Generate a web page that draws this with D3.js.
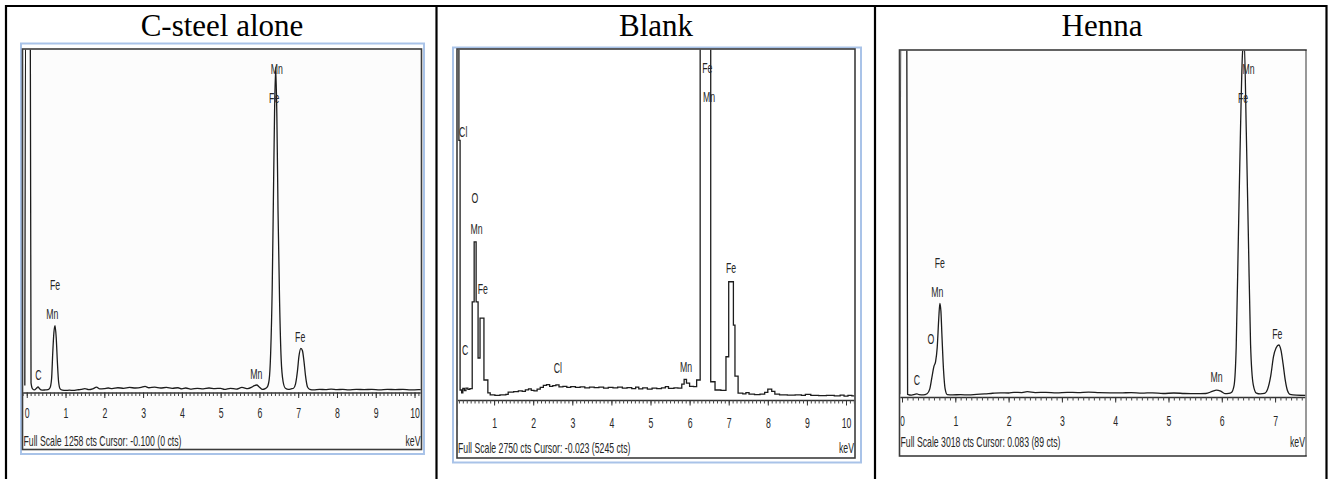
<!DOCTYPE html>
<html>
<head>
<meta charset="utf-8">
<script src="https://cdn.jsdelivr.net/npm/d3@7/dist/d3.min.js"></script>
<style>
  body { margin: 0; background: #fff; }
  svg { display: block; }
</style>
</head>
<body>
<svg id="chart" width="1331" height="479"></svg>
<script>
// panel titles and the spectrometer footers
const panelTitles = ['C-steel alone', 'Blank', 'Henna'];
const fullScales = [1258, 2750, 3018];
const footerTexts = [
  'Full Scale 1258 cts Cursor: -0.100  (0 cts)',
  'Full Scale 2750 cts Cursor: -0.023  (5245 cts)',
  'Full Scale 3018 cts Cursor: 0.083  (89 cts)'
];
const keVTicksSteel = [0, 1, 2, 3, 4, 5, 6, 7, 8, 9, 10];
const keVTicksBlank = [0, 1, 2, 3, 4, 5, 6, 7, 8, 9, 10];
const keVTicksHenna = [0, 1, 2, 3, 4, 5, 6, 7];

// [keV, counts]
const steelSpectrum = [
  [-0.05, 20], [-0.03, 1400], [0.09, 1400], [0.11, 30], [0.15, 8], [0.2, 4], [0.25, 10],
  [0.29, 15], [0.33, 8], [0.4, 3], [0.48, 4], [0.55, 5], [0.6, 12], [0.64, 45], [0.67, 140],
  [0.7, 215], [0.73, 240], [0.76, 195], [0.79, 105], [0.82, 35], [0.86, 8], [0.92, 3],
  [1.0, 2], [1.1, 3], [1.2, 2], [1.3, 4], [1.4, 6], [1.5, 9], [1.6, 5], [1.7, 8], [1.8, 14],
  [1.88, 8], [2.0, 9], [2.1, 11], [2.2, 9], [2.35, 12], [2.5, 10], [2.65, 13], [2.8, 11],
  [2.95, 13], [3.05, 17], [3.15, 12], [3.3, 14], [3.45, 11], [3.6, 13], [3.75, 10], [3.9, 12],
  [4.0, 8], [4.1, 11], [4.25, 7], [4.4, 10], [4.55, 8], [4.7, 11], [4.85, 9], [5.0, 10],
  [5.1, 6], [5.25, 10], [5.4, 7], [5.55, 13], [5.7, 9], [5.8, 14], [5.87, 20], [5.93, 22],
  [6.0, 14], [6.08, 6], [6.15, 9], [6.2, 14], [6.25, 40], [6.29, 140], [6.33, 380], [6.36, 700],
  [6.39, 1020], [6.42, 1192], [6.45, 1010], [6.48, 660], [6.52, 330], [6.56, 120], [6.61, 35],
  [6.67, 10], [6.75, 6], [6.82, 8], [6.88, 10], [6.93, 25], [6.98, 72], [7.02, 128], [7.07, 157],
  [7.11, 148], [7.15, 108], [7.19, 55], [7.24, 15], [7.3, 6], [7.4, 4], [7.55, 6], [7.7, 5],
  [7.85, 7], [8.0, 5], [8.15, 6], [8.3, 4], [8.5, 6], [8.7, 5], [8.9, 6], [9.1, 4], [9.3, 6],
  [9.5, 5], [9.7, 6], [9.9, 4], [10.1, 5], [10.25, 5]
];

// the Blank spectrum is drawn as steps: each pair starts a channel
const blankSpectrum = [
  [0.06, 3000], [0.1, 2030], [0.13, 63], [0.17, 40], [0.2, 75], [0.24, 58], [0.28, 78],
  [0.33, 68], [0.38, 74], [0.44, 758], [0.49, 1231], [0.54, 758], [0.59, 315], [0.64, 630],
  [0.74, 142], [0.84, 40], [0.9, 24], [1.02, 20], [1.15, 24], [1.3, 28], [1.36, 46], [1.5, 50],
  [1.62, 56], [1.72, 52], [1.8, 64], [1.88, 72], [1.95, 60], [2.02, 56], [2.1, 70], [2.18, 84],
  [2.26, 100], [2.34, 106], [2.42, 92], [2.5, 98], [2.58, 104], [2.66, 88], [2.76, 92],
  [2.86, 84], [2.96, 90], [3.08, 84], [3.2, 88], [3.32, 80], [3.44, 86], [3.56, 82], [3.68, 86],
  [3.8, 78], [3.92, 84], [4.04, 80], [4.16, 86], [4.28, 78], [4.4, 82], [4.52, 74], [4.62, 86],
  [4.7, 72], [4.8, 80], [4.92, 70], [5.04, 78], [5.16, 74], [5.28, 80], [5.38, 90], [5.46, 76],
  [5.6, 80], [5.7, 78], [5.8, 110], [5.86, 147], [5.92, 118], [6.0, 92], [6.1, 89], [6.18, 142],
  [6.27, 3000], [6.54, 128], [6.65, 63], [6.8, 60], [6.93, 325], [7.0, 916], [7.12, 575],
  [7.16, 173], [7.24, 39], [7.36, 32], [7.44, 42], [7.52, 30], [7.66, 26], [7.8, 30], [7.92, 44],
  [8.0, 70], [8.1, 52], [8.18, 30], [8.3, 24], [8.5, 22], [8.7, 24], [8.86, 20], [8.96, 28],
  [9.1, 20], [9.3, 18], [9.5, 20], [9.7, 16], [9.85, 22], [9.95, 14], [10.05, 20], [10.15, 16],
  [10.3, 16]
];

const hennaSpectrum = [
  [-0.04, 15], [-0.025, 3100], [0.09, 3100], [0.105, 15], [0.18, 8], [0.24, 14], [0.28, 18],
  [0.32, 12], [0.4, 10], [0.47, 20], [0.52, 60], [0.56, 160], [0.6, 260], [0.63, 300],
  [0.66, 420], [0.69, 680], [0.71, 808], [0.73, 740], [0.75, 520], [0.78, 220], [0.81, 60],
  [0.85, 12], [0.95, 10], [1.1, 12], [1.25, 9], [1.4, 14], [1.55, 18], [1.7, 24], [1.85, 28],
  [2.0, 26], [2.1, 32], [2.25, 30], [2.35, 38], [2.5, 30], [2.7, 32], [2.9, 28], [3.1, 32],
  [3.3, 30], [3.5, 34], [3.7, 30], [3.9, 28], [4.1, 27], [4.3, 30], [4.5, 25], [4.7, 28],
  [4.9, 22], [5.1, 26], [5.3, 22], [5.5, 20], [5.7, 22], [5.82, 40], [5.9, 52], [5.98, 42],
  [6.06, 20], [6.13, 22], [6.18, 30], [6.23, 90], [6.27, 420], [6.31, 1361], [6.35, 2300],
  [6.39, 3000], [6.42, 3100], [6.46, 2300], [6.5, 1361], [6.54, 450], [6.59, 100], [6.65, 25],
  [6.72, 18], [6.8, 22], [6.86, 60], [6.92, 180], [6.97, 343], [7.02, 420], [7.07, 445],
  [7.11, 400], [7.15, 280], [7.19, 140], [7.23, 50], [7.28, 15], [7.4, 8], [7.6, 6]
];

// peak labels: [element, keV, counts] at the label centre
const steelPeaks = [
  ['Mn', 6.45, 1187], ['Fe', 6.38, 1080], ['Fe', 0.73, 390], ['Mn', 0.66, 283],
  ['C', 0.30, 59], ['Mn', 5.92, 65], ['Fe', 7.05, 200]
];
const blankPeaks = [
  ['Fe', 6.45, 2600], ['Mn', 6.50, 2372], ['Cl', 0.21, 2098], ['O', 0.51, 1576],
  ['Mn', 0.55, 1332], ['Fe', 0.71, 864], ['C', 0.26, 378], ['Cl', 2.63, 236],
  ['Mn', 5.91, 244], ['Fe', 7.06, 1024]
];
const hennaPeaks = [
  ['Mn', 6.50, 2859], ['Fe', 6.40, 2606], ['Fe', 0.71, 1160], ['Mn', 0.66, 907],
  ['O', 0.54, 497], ['C', 0.28, 140], ['Mn', 5.90, 168], ['Fe', 7.04, 541]
];

const svg = d3.select('#chart');
const serif = '"Liberation Serif", "Times New Roman", serif';
const sans = '"Liberation Sans", Arial, sans-serif';
const squeeze = 0.58;   // the EDX screenshots are squashed horizontally
const smallSize = 15;

const panels = [
  {
    cx: 222, box: [21, 43.5, 424, 454], frame: [22.5, 49, 421.5, 449.5], fill: '#fcfcfc',
    xDomain: [-0.11, 10.18], yRange: [391, 49], axisY: 392.5, tickY: 418, footY: 446,
    curve: d3.curveMonotoneX, ticks: keVTicksSteel, spectrum: steelSpectrum, peaks: steelPeaks
  },
  {
    cx: 656, box: [453, 47.5, 861, 462.5], frame: [457, 49, 855, 458], fill: '#fff',
    xDomain: [0.051, 10.23], yRange: [398, 49], axisY: 400, tickY: 428, footY: 453,
    curve: d3.curveStepAfter, ticks: keVTicksBlank, spectrum: blankSpectrum, peaks: blankPeaks
  },
  {
    cx: 1102, box: null, frame: [899.5, 50, 1306, 456], fill: '#fdfdfd',
    xDomain: [-0.047, 7.58], yRange: [396, 50], axisY: 397, tickY: 426, footY: 447,
    curve: d3.curveMonotoneX, ticks: keVTicksHenna, spectrum: hennaSpectrum, peaks: hennaPeaks
  }
];

function squeezedText (parent, txt, px, py, anchor) {
  parent.append('text')
    .attr('transform', `translate(${px},${py}) scale(${squeeze},1)`)
    .attr('text-anchor', anchor)
    .attr('font-family', sans)
    .attr('font-size', smallSize)
    .attr('fill', '#262626')
    .text(txt);
}

panels.forEach((p, i) => {
  const g = svg.append('g');
  const [fx0, fy0, fx1, fy1] = p.frame;

  g.append('text')
    .attr('x', p.cx)
    .attr('y', 36)
    .attr('text-anchor', 'middle')
    .attr('font-family', serif)
    .attr('font-size', 31)
    .attr('fill', '#000')
    .text(panelTitles[i]);

  if (p.box) {
    g.append('rect')
      .attr('x', p.box[0]).attr('y', p.box[1])
      .attr('width', p.box[2] - p.box[0]).attr('height', p.box[3] - p.box[1])
      .attr('fill', '#fff')
      .attr('stroke', '#a9c3e8')
      .attr('stroke-width', 2);
  }

  g.append('rect')
    .attr('x', fx0).attr('y', fy0)
    .attr('width', fx1 - fx0).attr('height', fy1 - fy0)
    .attr('fill', p.fill)
    .attr('stroke', '#3c3c3c')
    .attr('stroke-width', 1.6);

  if (!p.box) {
    // the Henna frame has a lighter right edge
    g.append('line')
      .attr('x1', fx1).attr('x2', fx1).attr('y1', fy0 + 1).attr('y2', fy1 - 1)
      .attr('stroke', '#999').attr('stroke-width', 2);
  }

  const clipId = 'clip' + i;
  svg.append('clipPath').attr('id', clipId)
    .append('rect')
    .attr('x', fx0 + 0.8).attr('y', fy0 + 0.8)
    .attr('width', fx1 - fx0 - 1.6).attr('height', fy1 - fy0 - 1.6);

  const x = d3.scaleLinear().domain(p.xDomain).range([fx0, fx1]);
  const y = d3.scaleLinear().domain([0, fullScales[i]]).range(p.yRange);

  // keV axis: minor ticks every 0.1 keV, then the labelled ones
  const axes = g.append('g').attr('clip-path', `url(#${clipId})`);
  axes.append('g')
    .attr('transform', `translate(0,${p.axisY})`)
    .call(d3.axisBottom(x).ticks(100).tickSize(3.5).tickSizeOuter(0).tickFormat(''))
    .call(a => a.select('.domain').attr('stroke', '#333').attr('stroke-width', 1.3))
    .call(a => a.selectAll('.tick line').attr('stroke', '#444'));

  axes.append('g')
    .attr('transform', `translate(0,${p.axisY})`)
    .call(d3.axisBottom(x).tickValues(p.ticks).tickSize(5.5).tickSizeOuter(0).tickFormat(d3.format('d')))
    .call(a => a.select('.domain').remove())
    .call(a => a.selectAll('.tick line').attr('stroke', '#333'))
    .call(a => a.selectAll('.tick text')
      .attr('y', null).attr('dy', null)
      .attr('transform', `translate(0,${p.tickY - p.axisY}) scale(${squeeze},1)`)
      .attr('font-family', sans)
      .attr('font-size', smallSize)
      .attr('fill', '#262626'));

  const line = d3.line()
    .x(d => x(d[0]))
    .y(d => y(d[1]))
    .curve(p.curve);

  g.append('path')
    .datum(p.spectrum)
    .attr('clip-path', `url(#${clipId})`)
    .attr('d', line)
    .attr('fill', 'none')
    .attr('stroke', '#1c1c1c')
    .attr('stroke-width', 1.3);

  const labels = g.append('g').attr('clip-path', `url(#${clipId})`);
  p.peaks.forEach(([el, k, c]) => {
    squeezedText(labels, el, x(k), y(c) + 5.3, 'middle');
  });

  squeezedText(g, footerTexts[i], fx0 + 1, p.footY, 'start');
  squeezedText(g, 'keV', fx1 - 1, p.footY, 'end');
});

// table rules
const rules = svg.append('g').attr('stroke', '#000').attr('stroke-width', 2.2);
rules.append('line').attr('x1', 6).attr('x2', 1327).attr('y1', 6).attr('y2', 6);
[6, 436.5, 875, 1326.5].forEach(rx => {
  rules.append('line').attr('x1', rx).attr('x2', rx).attr('y1', 5).attr('y2', 479);
});
</script>
</body>
</html>
